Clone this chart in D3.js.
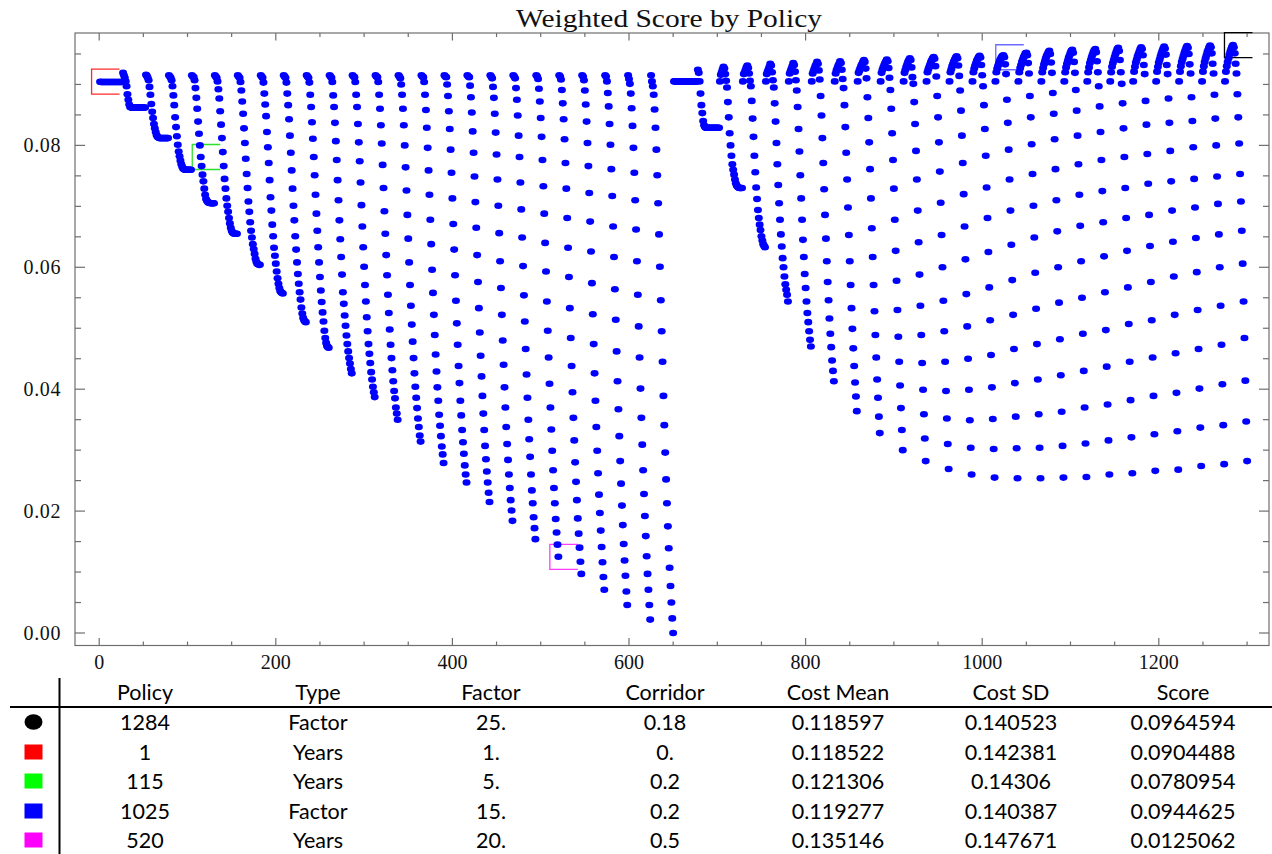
<!DOCTYPE html>
<html>
<head>
<meta charset="utf-8">
<script src="https://cdn.jsdelivr.net/npm/d3@7"></script>
<style>
  html, body { margin: 0; padding: 0; background: #ffffff; }
  svg { display: block; }
</style>
</head>
<body>
<svg id="chart" width="1272" height="854"></svg>
<script>
// Weighted score for every rebalancing policy.
// Policies are numbered 1..1300: 2 rule types x 25 factors x 26 corridors (0, 0.02, ... 0.5).
// Scores below are in basis points (1 bp = 0.0001), one row per factor, one entry per corridor.

const ruleTypes = ["Years", "Factor"];
const corridorsPerFactor = 26;

const yearsScoreBp = [
  [904.488,904,904,904,904,904,904,904,904,904,904,904,904, 904,904,904,904,904,904,904,904,904,904,904,904,904],
  [919,915,911,905,897,884,875,867,863,862,862,862,862, 862,862,862,862,862,862,862,862,862,862,862,862,862],
  [916,914,911,907,896,883,868,855,845,835,828,822,817, 814,813,812,812,812,812,812,812,812,812,812,812,812],
  [915,913,911,907,897,882,866,846,830,815,801,790,782, 775,769,765,762,761,760,760,760,760,760,760,760,760],
  [915,913,912,907,894,878,860,839,819,800,780.954,766,752, 741,729,719,712,709,707,706,706,705,705,705,705,705],
  [915,913,911,905,892,877,856,834,812,789,766,745,729, 713,701,691,681,672,665,660,657,656,655,655,655,655],
  [915,913,911,904,890,872,852,828,804,778,753,730,708, 691,674,660,649,638,630,622,614,609,606,605,604,604],
  [915,913,911,903,885,867,848,822,797,771,743,715,693, 670,651,632,619,606,593,582,573,566,561,559,558,557],
  [915,913,911,903,885,866,843,816,788,759,729,701,677, 651,629,608,589,573,559,547,534,524,517,513,511,510],
  [915,913,911,903,883,863,838,811,781,751,719,688,660, 633,608,584,562,543,526,511,496,484,476,471,469,468],
  [915,913,911,904,882,863,837,807,776,743,710,677,646, 617,588,559,540,521,504,488,474,462,451,442,433,426],
  [915,913,912,904,883,863,835,805,774,739,702,667,633, 601,571,544,518,495,474,458,443,428,416,404,395,387],
  [915,913,912,904,883,860,833,803,768,730,692,655,620, 587,555,525,498,473,451,431,413,397,385,370,360,350],
  [915,913,910,900,883,860,833,800,764,726,686,647,608, 571,537,506,478,451,426,404,386,369,352,338,324,314],
  [915,913,912,904,883,858,829,796,759,719,678,638,596, 558,522,489,457,429,403,381,358,340,323,306,293,279],
  [915,913,912,900,881,856,827,793,755,713,671,629,587, 545,508,473,438,410,381,357,333,313,294,275,260,247],
  [915,913,912,898,879,854,823,788,749,707,665,620,576, 533,493,455,421,389,360,333,307,285,265,247,230,215],
  [915,913,910,896,878,852,821,785,744,701,656,610,566, 522,480,440,403,370,338,310,284,260,238,218,201,184],
  [915,913,910,894,875,849,816,781,739,695,649,602,554, 511,466,424,386,350,318,289,260,234,213,190,172,154],
  [915,913,909,893,872,845,814,776,733,688,640,593,544, 496,452,409,370,334,299,267,238,213,187,165,145,125.062],
  [915,913,908,891,869,843,810,771,729,681,632,584,533, 484,438,395,353,316,280,248,218,188,163,140,117,97],
  [915,913,907,890,867,839,804,766,722,675,626,574,523, 474,426,381,338,299,262,227,197,168,141,116,92,71],
  [915,913,905,886,864,835,801,761,717,667,617,564,514, 462,413,367,323,282,245,209,177,146,119,94,68,46],
  [915,909,901,885,861,832,796,755,710,662,610,555,503, 452,401,353,309,267,228,192,159,126,97,71,46,22],
  [915,905,897,883,859,829,793,751,705,654,601,546,495, 445,389,341,296,252,213,175,139,107,77,50,24,0]
];

const factorScoreBp = [
  [905,905,905,905,905,905,905,905,905,905,905,905,905, 905,905,905,905,905,905,905,905,905,905,905,905,905],
  [905,924,919,905,885,866,853,840,833,830,829,829,829, 829,829,829,829,829,829,829,829,829,829,829,829,829],
  [905,916,920,925,929,926,917,906,895,871,846,820,800, 783,769,760,752,744,738,734,732,731,730,730,730,730],
  [905,917,920,924,928,931,927,918,906,897,873,844,814, 783,756,731,712,694,681,670,661,651,644,638,635,633],
  [905,917,921,925,929,934,931,920,907,895,869,839,804, 769,735,705,678,654,634,615,600,585,572,563,555,544],
  [905,918,922,926,930,935,932,921,907,890,863,827,790, 751,713,678,645,617,589,566,544,525,510,495,481,470],
  [905,918,922,926,930,933,937,934,923,908,881,849,812, 771,728,686,647,610,576,546,516,491,469,447,430,413],
  [905,918,923,927,931,934,938,935,924,909,894,866,830, 788,744,698,653,610,571,533,499,467,438,411,388,364],
  [905,919,923,927,931,934,937,940,937,926,910,879,845, 805,761,713,664,617,571,528,489,452,416,386,355,328],
  [905,919,924,928,932,935,938,941,938,927,911,891,860, 820,776,729,678,627,578,530,486,445,406,369,333,300],
  [905,919,924,929,933,937,940,943,940,928,912,901,871, 835,791,744,693,641,588,537,489,443,399,359,319,282],
  [905,920,925,929,933,937,940,943,945,942,930,913,881, 846,805,757,706,653,600,545,495,445,397,352,310,269],
  [905,920,925,930,934,938,941,944,946,943,931,914,890, 857,816,771,720,667,613,556,503,450,399,349,304,260],
  [905,920,926,931,935,939,942,945,947,944,932,915,897, 866,827,783,731,681,625,567,513,456,403,351,302,255],
  [905,920,926,931,935,939,942,945,947,948,944.625,933,917, 875,837,793,744,693,637,579,522,466,410,355,303,254],
  [905,920,927,932,937,941,945,948,951,952,948,935,918, 881,846,802,753,701,649,591,532,474,416,359,304,254],
  [905,920,927,933,938,943,947,950,953,955,950,936,919, 886,852,810,761,710,659,600,542,482,423,363,307,255],
  [905,920,928,934,939,944,948,952,955,957,952,937,919, 891,857,816,769,719,668,610,550,491,430,370,311,256],
  [905,920,928,935,940,945,949,953,956,958,953,938,920, 897,864,822,776,725,674,618,559,497,437,375,316,260],
  [905,920,929,935,940,945,950,954,958,960,955,940,920, 901,869,828,781,730,681,627,567,507,445,382,321,262],
  [905,921,929,936,941,946,950,954,958,961,958,948,932, 917,873,834,786,737,686,635,576,513,452,389,326,266],
  [905,921,929,936,941,946,951,955,959,962,959,949,932, 917,877,837,791,741,693,642,585,522,459,394,331,268],
  [905,921,930,937,942,947,952,956,960,963,960,950,933, 918,879,840,797,745,698,648,592,530,466,401,337,274],
  [905,921,930,937,943,948,953,957,961,964,961,951,934, 918,883,844,800,749,704,654,600,537,473,408,341,277],
  [905,921,930,937,943,949,954,958,962,964.594,961,951,934, 918,884,846,803,753,708,660,606,544,484,414,347,282]
];

// Highlighted policies, listed in the table under the chart
const tableHeaders   = ["Policy", "Type", "Factor", "Corridor", "Cost Mean", "Cost SD", "Score"];
const tablePolicy    = [1284, 1, 115, 1025, 520];
const tableType      = ["Factor", "Years", "Years", "Factor", "Years"];
const tableFactor    = ["25.", "1.", "5.", "15.", "20."];
const tableCorridor  = ["0.18", "0.", "0.2", "0.2", "0.5"];
const tableCostMean  = ["0.118597", "0.118522", "0.121306", "0.119277", "0.135146"];
const tableCostSD    = ["0.140523", "0.142381", "0.14306", "0.140387", "0.147671"];
const tableScore     = ["0.0964594", "0.0904488", "0.0780954", "0.0944625", "0.0125062"];
const tableColor     = ["#000000", "#ff0000", "#00ff00", "#0000ff", "#ff00ff"];
const tableMarker    = ["circle", "square", "square", "square", "square"];
const boxColor       = ["#000000", "#ff2a2a", "#2ee02e", "#6b6bff", "#ff3cff"];

const xTickLabels = [0, 200, 400, 600, 800, 1000, 1200];
const yTickLabels = [0.00, 0.02, 0.04, 0.06, 0.08];

// ---------------------------------------------------------------------------
const svg = d3.select("#chart");

const frame = { left: 75, right: 1269, top: 33, bottom: 645.5 };
const x = d3.scaleLinear().domain([-27.4, 1324.8]).range([frame.left, frame.right]);
const y = d3.scaleLinear().domain([-0.00205, 0.09844]).range([frame.bottom, frame.top]);

// Flatten the score blocks into one point per policy
const points = [];
[yearsScoreBp, factorScoreBp].forEach((block, t) => {
  block.forEach((row, f) => {
    row.forEach((bp, k) => {
      points.push({
        policy: t * block.length * corridorsPerFactor + f * corridorsPerFactor + k + 1,
        type: ruleTypes[t],
        score: bp / 1e4
      });
    });
  });
});

const serif = "'Liberation Serif', 'Times New Roman', serif";
const frameColor = "#6f6f6f";

// Title
svg.append("text")
  .attr("x", 669).attr("y", 27)
  .attr("text-anchor", "middle")
  .attr("font-family", serif)
  .attr("font-size", 25)
  .attr("textLength", 306)
  .attr("lengthAdjust", "spacingAndGlyphs")
  .attr("fill", "#111")
  .text("Weighted Score by Policy");

// Frame
svg.append("rect")
  .attr("x", frame.left).attr("y", frame.top)
  .attr("width", frame.right - frame.left)
  .attr("height", frame.bottom - frame.top)
  .attr("fill", "none")
  .attr("stroke", frameColor)
  .attr("stroke-width", 1.2);

// Frame ticks
const ticks = svg.append("g").attr("stroke", frameColor).attr("stroke-width", 1.2);
const xTickValues = d3.range(0, 1301, 50);
xTickValues.forEach(v => {
  const major = v % 200 === 0;
  const len = major ? 7.5 : 4;
  const px = x(v);
  ticks.append("line").attr("x1", px).attr("x2", px).attr("y1", frame.bottom).attr("y2", frame.bottom - len);
  ticks.append("line").attr("x1", px).attr("x2", px).attr("y1", frame.top).attr("y2", frame.top + len);
});
const yTickValues = d3.range(0, 20).map(i => i * 0.005);
yTickValues.forEach((v, i) => {
  const major = i % 4 === 0;
  const len = major ? 10 : 6;
  const py = y(v);
  ticks.append("line").attr("x1", frame.left).attr("x2", frame.left + len).attr("y1", py).attr("y2", py);
  ticks.append("line").attr("x1", frame.right).attr("x2", frame.right - len).attr("y1", py).attr("y2", py);
});

// Tick labels
svg.append("g").selectAll("text").data(xTickLabels).join("text")
  .attr("x", d => x(d)).attr("y", 669)
  .attr("text-anchor", "middle")
  .attr("font-family", serif).attr("font-size", 20)
  .attr("fill", "#111")
  .text(d => d);

svg.append("g").selectAll("text").data(yTickLabels).join("text")
  .attr("x", 61).attr("y", d => y(d) + 6.5)
  .attr("text-anchor", "end")
  .attr("font-family", serif).attr("font-size", 20)
  .attr("letter-spacing", 0.6)
  .attr("fill", "#111")
  .text(d => d3.format(".2f")(d));

// Highlight brackets around the selected policies
const boxes = svg.append("g").attr("fill", "none").attr("stroke-width", 1.3);
tablePolicy.forEach((p, i) => {
  const px = x(p), py = y(+tableScore[i]);
  const l = px - 8.5, r = px + 19.5, t = py - 12.5, b = py + 12.5;
  boxes.append("path")
    .attr("d", `M${r},${t}H${l}V${b}H${r}`)
    .attr("stroke", boxColor[i]);
});

// All policies
svg.append("g").attr("fill", "#0000ff")
  .selectAll("ellipse").data(points).join("ellipse")
  .attr("cx", d => x(d.policy))
  .attr("cy", d => y(d.score))
  .attr("rx", 4)
  .attr("ry", 3.3);

// ---------------------------------------------------------------------------
// Table of highlighted policies
const sans = "Lato, 'Open Sans', 'Noto Sans', sans-serif";
const colX = [145, 318, 491, 665, 838, 1011, 1183];
const headerY = 699.5;
const rowY = [729.5, 759.5, 788.5, 818.5, 847.5];

const table = svg.append("g").attr("font-family", sans).attr("font-size", 21.5).attr("fill", "#000");

table.selectAll("text.h").data(tableHeaders).join("text")
  .attr("class", "h")
  .attr("x", (d, i) => colX[i]).attr("y", headerY)
  .attr("text-anchor", "middle")
  .text(d => d);

const rows = tablePolicy.map((p, i) => [
  String(p), tableType[i], tableFactor[i], tableCorridor[i],
  tableCostMean[i], tableCostSD[i], tableScore[i]
]);

rows.forEach((cells, r) => {
  table.append("g").selectAll("text").data(cells).join("text")
    .attr("x", (d, i) => colX[i]).attr("y", rowY[r])
    .attr("text-anchor", "middle")
    .text(d => d);
});

// Grid lines of the table
svg.append("line").attr("x1", 10).attr("x2", 1272).attr("y1", 707).attr("y2", 707)
  .attr("stroke", "#000").attr("stroke-width", 2);
svg.append("line").attr("x1", 59.5).attr("x2", 59.5).attr("y1", 678).attr("y2", 854)
  .attr("stroke", "#000").attr("stroke-width", 2);

// Legend markers
tableMarker.forEach((m, i) => {
  const cy = rowY[i] - 7.5;
  if (m === "circle") {
    svg.append("ellipse").attr("cx", 33.5).attr("cy", cy).attr("rx", 9).attr("ry", 7.8)
      .attr("fill", tableColor[i]);
  } else {
    svg.append("rect").attr("x", 24.5).attr("y", cy - 7.5).attr("width", 18).attr("height", 15)
      .attr("fill", tableColor[i]);
  }
});
</script>
</body>
</html>
